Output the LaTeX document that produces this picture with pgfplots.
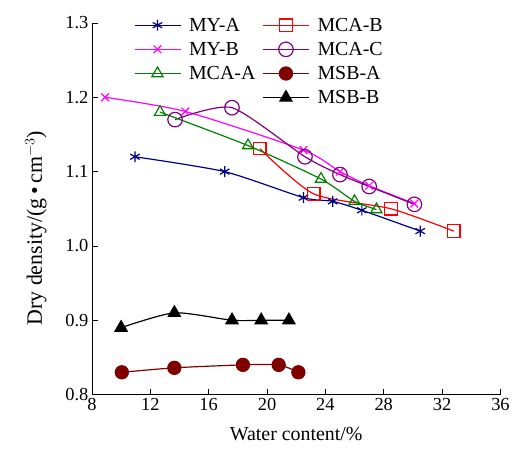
\documentclass[border=0pt]{standalone}
\usepackage{fontspec}
\setmainfont{Liberation Serif}
\usepackage{pgfplots}
\pgfplotsset{compat=1.18}
\definecolor{cMYA}{RGB}{0,0,128}
\definecolor{cMYB}{RGB}{255,0,255}
\definecolor{cMCAA}{RGB}{0,128,0}
\definecolor{cMCAB}{RGB}{255,0,0}
\definecolor{cMCAC}{RGB}{128,0,128}
\definecolor{cMSBA}{RGB}{128,0,0}
\definecolor{cMSBB}{RGB}{0,0,0}
\begin{document}
\begin{tikzpicture}
\begin{axis}[
  scale only axis,
  width=409bp, height=372bp,
  xmin=8, xmax=36, ymin=0.8, ymax=1.3,
  xtick={8,12,16,20,24,28,32,36},
  xticklabels={8,12,16,20,24,28,32,36},
  ytick={0.8,0.9,1.0,1.1,1.2,1.3},
  yticklabels={0.8,0.9,1.0,1.1,1.2,1.3},
  axis lines*=left,
  tick align=inside,
  major tick length=6bp,
  axis line style={line width=0.8pt},
  tick style={line width=0.8pt, black},
  tick label style={font=\fontsize{18.5}{18.5}\selectfont},
  xlabel style={font=\fontsize{20}{20}\selectfont, yshift=-10bp},
  ylabel style={font=\fontsize{22}{22}\selectfont, at={(ticklabel cs:0.448)}, yshift=12bp},
  xlabel={Water content/\%},
  ylabel={Dry density/(g\,•\,cm$^{-3}$)},
  every axis plot/.append style={line width=1.2pt, smooth, tension=0.4},
  legend columns=2,
  legend cell align=left,
  legend style={draw=none, fill=none, at={(0.095,1.025)}, anchor=north west,
    font=\fontsize{20}{20}\selectfont, row sep=5.5bp,
    /tikz/every odd column/.append style={column sep=6bp},
    /tikz/every even column/.append style={column sep=5bp}},
  legend image code/.code={\draw[mark repeat=2,mark phase=2,#1] plot coordinates {(0bp,0bp) (23bp,0bp) (46bp,0bp)};},
]
\addplot[color=cMYA, mark=asterisk, mark size=5.5, mark options={line width=1.2pt}] coordinates {
 (10.95,1.12) (17.1,1.10) (22.5,1.065) (24.5,1.06) (26.5,1.048) (30.5,1.02)};
\addlegendentry{MY-A}
\addplot[color=cMCAB, mark=square, mark size=6.3, mark options={line width=1.2pt}] coordinates {
 (19.5,1.131) (23.2,1.07) (28.5,1.05) (32.8,1.02)};
\addlegendentry{MCA-B}
\addplot[color=cMYB, mark=x, mark size=5.5, mark options={line width=1.2pt}] coordinates {
 (8.9,1.2) (14.4,1.181) (22.5,1.129) (25.0,1.10) (27.0,1.081) (30.1,1.057)};
\addlegendentry{MY-B}
\addplot[color=cMCAC, mark=o, mark size=7.3, mark options={line width=1.2pt}] coordinates {
 (13.7,1.17) (17.6,1.186) (22.6,1.12) (25.0,1.096) (27.0,1.08) (30.1,1.056)};
\addlegendentry{MCA-C}
\addplot[color=cMCAA, mark=triangle, mark size=6.5, mark options={line width=1.2pt}] coordinates {
 (12.67,1.18) (18.7,1.135) (23.7,1.09) (26.0,1.06) (27.5,1.049)};
\addlegendentry{MCA-A}
\addplot[color=cMSBA, mark=*, mark size=6.6, mark options={fill=cMSBA}] coordinates {
 (10.05,0.83) (13.65,0.836) (18.35,0.84) (20.8,0.84) (22.15,0.83)};
\addlegendentry{MSB-A}
\addlegendimage{empty legend}
\addlegendentry{}
\addplot[color=cMSBB, mark=triangle*, mark size=7, mark options={fill=cMSBB}] coordinates {
 (10.0,0.89) (13.65,0.91) (17.6,0.90) (19.6,0.90) (21.5,0.90)};
\addlegendentry{MSB-B}
\end{axis}
\path (current axis.south west) ++(-92bp,-57bp) rectangle ++(513bp,452bp);
\end{tikzpicture}
\end{document}
